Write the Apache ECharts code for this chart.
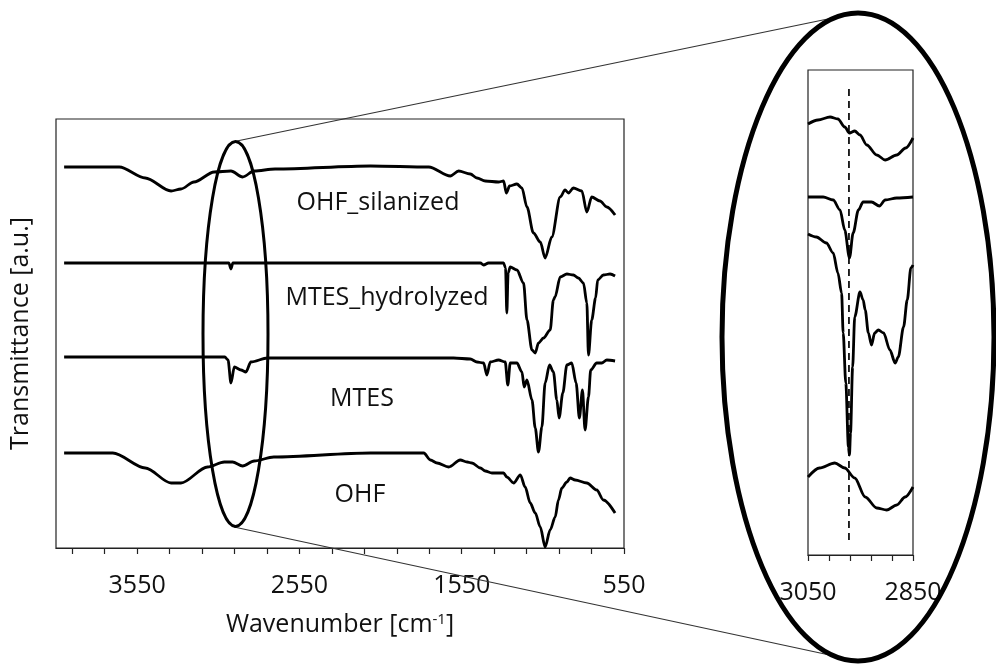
<!DOCTYPE html>
<html><head><meta charset="utf-8">
<script src="https://cdn.jsdelivr.net/npm/echarts@6/dist/echarts.min.js"></script>
<style>html,body{margin:0;padding:0;background:#fff}#c{width:996px;height:671px}</style>
</head><body><div id="c"></div>
<script>
// ---- data: [wavenumber cm-1, transmittance a.u. (offset)] ----
const OHF_SILANIZED = [[4000,381],[3660,381],[3500,370],[3341,357],[3280,359],[3200,366],[3075,376],[2972,377],[2900,371],[2829,377],[2700,379],[2112,382],[1753,381],[1620,372],[1569,377],[1497,374],[1456,370],[1405,367],[1323,366],[1292,367],[1275,355],[1255,362],[1210,364],[1179,360],[1148,341],[1108,315],[1066,306],[1036,290],[995,311],[943,351],[913,358],[892,355],[862,360],[810,357],[779,336],[749,351],[698,347],[656,341],[605,333]];
const MTES_HYDROLYZED = [[4000,285],[2985,285],[2972,279],[2960,285],[1435,285],[1415,283],[1385,285],[1292,285],[1280,280],[1272,235],[1264,275],[1251,281],[1210,278],[1169,265],[1148,228],[1117,198],[1097,195],[1077,205],[1046,210],[1005,218],[985,248],[975,251],[943,271],[902,274],[862,273],[831,270],[800,265],[779,245],[769,193],[749,228],[725,250],[712,268],[677,273],[636,274],[605,272]];
const MTES = [[4000,191],[3010,191],[2990,188],[2972,165],[2951,181],[2910,178],[2880,176],[2849,186],[2747,190],[1600,190],[1497,189],[1456,186],[1415,185],[1395,173],[1374,186],[1323,188],[1282,186],[1266,163],[1251,185],[1210,185],[1179,176],[1165,161],[1148,168],[1117,148],[1097,120],[1077,96],[1056,121],[1036,165],[1009,183],[985,176],[964,148],[950,130],[927,155],[902,183],[872,185],[845,165],[825,130],[806,158],[790,118],[769,151],[755,178],[718,185],[687,185],[656,188],[605,187]];
const OHF = [[4000,95],[3700,95],[3500,80],[3341,65],[3280,65],[3116,81],[3013,86],[2962,86],[2900,82],[2829,87],[2708,91],[2112,95],[1784,95],[1743,88],[1702,85],[1630,81],[1559,88],[1517,86],[1487,85],[1435,80],[1405,77],[1364,75],[1323,75],[1292,75],[1272,71],[1230,65],[1189,73],[1159,61],[1128,45],[1097,35],[1066,21],[1036,1],[1005,18],[974,31],[954,48],[933,60],[902,66],[882,70],[851,68],[779,65],[718,58],[677,48],[605,35]];

// inset (3050-2850 cm-1)
const IN_OHF_SILANIZED = [[3050,431],[3031,435],[3008,438],[2993,436],[2980,428],[2971,422],[2961,424],[2951,420],[2938,410],[2919,400],[2903,395],[2881,400],[2864,407],[2850,417]];
const IN_MTES_HYDROLYZED = [[3050,358],[3021,358],[3002,355],[2989,345],[2980,325],[2971,297],[2964,322],[2954,345],[2945,353],[2929,353],[2914,349],[2903,355],[2881,357],[2850,358]];
const IN_MTES = [[3050,321],[3034,318],[3015,312],[3002,302],[2993,282],[2986,262],[2983,222],[2978,172],[2973,108],[2971,100],[2969,122],[2965,188],[2961,238],[2951,263],[2945,255],[2941,245],[2935,222],[2929,210],[2923,222],[2916,225],[2906,222],[2894,205],[2884,192],[2878,198],[2868,228],[2861,255],[2854,287],[2850,290]];
const IN_OHF = [[3050,78],[3028,87],[2999,92],[2980,87],[2961,77],[2941,58],[2919,47],[2900,45],[2881,50],[2865,58],[2850,68]];
const MARK_WN = [[2972,15],[2972,466]];

const SERIES_NAMES = ['OHF_silanized','MTES_hydrolyzed','MTES','OHF'];
const MAIN_TICKS = [550,750,950,1150,1350,1550,1750,1950,2150,2350,2550,2750,2950,3150,3350,3550,3750,3950];
const MAIN_LABELS = [550,1550,2550,3550];
const INSET_TICKS = [2850,2890,2930,2970,3010,3050];
const INSET_LABELS = [2850,3050];

const FONT = '"Open Sans", "Noto Sans", sans-serif';
const chart = echarts.init(document.getElementById('c'), null, {renderer:'canvas'});
const lineStyle = {color:'#000', width:2.8};
const plain = v => String(v);
function mk(name, data, idx){
  return {type:'line', name, data, xAxisIndex:idx, yAxisIndex:idx, showSymbol:false, symbol:'none',
    smooth:0.3, smoothMonotone:'x', lineStyle, z:3, silent:true, animation:false};
}
const option = {
  animation:false,
  grid:[
    {left:54, right:372, top:119, bottom:123, show:true, borderColor:'#222', borderWidth:1.2, backgroundColor:'transparent'},
    {left:808, right:83, top:70, bottom:116, show:true, borderColor:'#222', borderWidth:1.2, backgroundColor:'transparent'}
  ],
  xAxis:[
    {type:'value', gridIndex:0, inverse:true, min:550, max:4050,
     name:'Wavenumber [cm{sup|-1}]', nameLocation:'middle', nameGap:64,
     nameTextStyle:{fontFamily:FONT, fontSize:25, color:'#111', rich:{sup:{fontFamily:FONT, fontSize:15, color:'#111', verticalAlign:'top', padding:[0,0,10,0]}}},
     axisLine:{show:true, lineStyle:{color:'#222', width:1.2}},
     axisTick:{show:true, length:6, inside:false, customValues:MAIN_TICKS, lineStyle:{color:'#222', width:1.2}},
     axisLabel:{show:true, customValues:MAIN_LABELS, formatter:plain, margin:25, fontFamily:FONT, fontSize:25, color:'#111'},
     splitLine:{show:false}},
    {type:'value', gridIndex:1, inverse:true, min:2850, max:3050,
     axisLine:{show:true, lineStyle:{color:'#222', width:1.2}},
     axisTick:{show:true, length:6, customValues:INSET_TICKS, lineStyle:{color:'#222', width:1.2}},
     axisLabel:{show:true, customValues:INSET_LABELS, formatter:plain, margin:25, fontFamily:FONT, fontSize:25, color:'#111'},
     splitLine:{show:false}}
  ],
  yAxis:[
    {type:'value', gridIndex:0, min:0, max:429, name:'Transmittance [a.u.]', nameLocation:'middle', nameGap:23, nameRotate:90,
     nameTextStyle:{fontFamily:FONT, fontSize:25, color:'#111'},
     axisLine:{show:false}, axisTick:{show:false}, axisLabel:{show:false}, splitLine:{show:false}},
    {type:'value', gridIndex:1, min:0, max:485,
     axisLine:{show:false}, axisTick:{show:false}, axisLabel:{show:false}, splitLine:{show:false}}
  ],
  series:[
    mk(SERIES_NAMES[0], OHF_SILANIZED, 0),
    mk(SERIES_NAMES[1], MTES_HYDROLYZED, 0),
    mk(SERIES_NAMES[2], MTES, 0),
    mk(SERIES_NAMES[3], OHF, 0),
    mk(SERIES_NAMES[0], IN_OHF_SILANIZED, 1),
    mk(SERIES_NAMES[1], IN_MTES_HYDROLYZED, 1),
    mk(SERIES_NAMES[2], IN_MTES, 1),
    mk(SERIES_NAMES[3], IN_OHF, 1),
    {type:'line', data:MARK_WN, xAxisIndex:1, yAxisIndex:1, showSymbol:false, symbol:'none', smooth:false,
     lineStyle:{color:'#111', width:1.8, type:[7,5]}, z:2, silent:true}
  ],
  graphic:[
    {type:'text', x:378, y:203, style:{text:SERIES_NAMES[0], font:'25px '+FONT, fill:'#111', textAlign:'center', textVerticalAlign:'middle'}},
    {type:'text', x:387, y:298, style:{text:SERIES_NAMES[1], font:'25px '+FONT, fill:'#111', textAlign:'center', textVerticalAlign:'middle'}},
    {type:'text', x:362, y:399, style:{text:SERIES_NAMES[2], font:'25px '+FONT, fill:'#111', textAlign:'center', textVerticalAlign:'middle'}},
    {type:'text', x:360, y:495, style:{text:SERIES_NAMES[3], font:'25px '+FONT, fill:'#111', textAlign:'center', textVerticalAlign:'middle'}},
    {type:'ellipse', shape:{cx:235.5, cy:334, rx:32.5, ry:192.5}, style:{fill:'none', stroke:'#000', lineWidth:3}, z:10},
    {type:'ellipse', shape:{cx:858, cy:337, rx:136, ry:324}, style:{fill:'none', stroke:'#000', lineWidth:5}, z:10},
    {type:'line', shape:{x1:232, y1:142, x2:852, y2:14}, style:{stroke:'#333', lineWidth:1.2}, z:9},
    {type:'line', shape:{x1:234, y1:527, x2:862, y2:662}, style:{stroke:'#333', lineWidth:1.2}, z:9}
  ]
};
chart.setOption(option);
</script></body></html>
